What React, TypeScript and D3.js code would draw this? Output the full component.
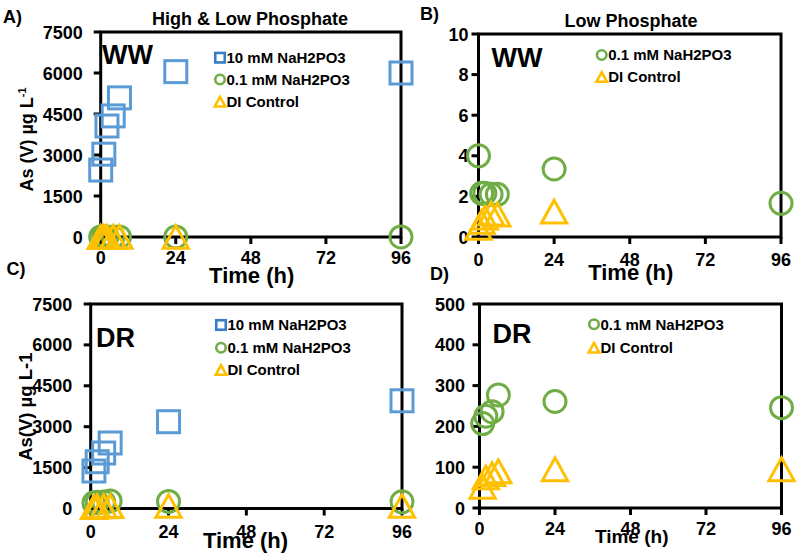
import React from 'react';
import * as d3 from 'd3';

// ---------- data ----------
const xTicks = [0, 24, 48, 72, 96];

const timesWW = [0, 1, 2, 4, 6, 24, 96];
const ww10mM: (number | null)[] = [2450, 3030, 4060, 4430, 5090, 6050, 6000];
const ww01mM: (number | null)[] = [4.0, 2.15, 2.15, 2.1, 2.1, 3.35, 1.66];
const wwDI: (number | null)[] = [0.45, 0.75, 0.95, 1.15, 1.1, 1.25, null];

const timesDR = [1, 2, 4, 6, 24, 96];
const dr10mM: (number | null)[] = [1375, 1716, 2035, 2402, 3183, 3950];
const dr01mM: (number | null)[] = [207, 225, 236, 277, 261, 246];
const drDI: (number | null)[] = [52, 75, 83, 90, 95, 95];

const ticksHigh = [0, 1500, 3000, 4500, 6000, 7500];
const ticksB = [0, 2, 4, 6, 8, 10];
const ticksD = [0, 100, 200, 300, 400, 500];

const label10 = '10 mM NaH2PO3';
const label01 = '0.1 mM NaH2PO3';
const labelDI = 'DI Control';

// ---------- style ----------
const FONT = '"Liberation Sans", Arial, sans-serif';
const BLUE = '#5B9BD5';
const BLUE_LEG = '#3A7CC6';
const GREEN = '#70AD47';
const ORANGE = '#FFC000';

type Kind = 'square' | 'circle' | 'triangle';

function Marker({ kind, x, y, s, sw, color }: { kind: Kind; x: number; y: number; s: number; sw: number; color: string }) {
  if (kind === 'square') {
    return <rect x={x - s / 2} y={y - s / 2} width={s} height={s} fill="none" stroke={color} strokeWidth={sw} />;
  }
  if (kind === 'circle') {
    return <circle cx={x} cy={y} r={s / 2} fill="none" stroke={color} strokeWidth={sw} />;
  }
  const w = s * 1.05;
  const h = s * 0.95;
  const p = d3.path();
  p.moveTo(x, y - h / 2);
  p.lineTo(x + w / 2, y + h / 2);
  p.lineTo(x - w / 2, y + h / 2);
  p.closePath();
  return <path d={p.toString()} fill="none" stroke={color} strokeWidth={sw} strokeLinejoin="miter" />;
}

type Series = { kind: Kind; color: string; legColor: string; label: string; times: number[]; values: (number | null)[] };

type Layout = {
  x0: number; x1: number; yTop: number; yBot: number;
  yTicks: number[]; yGap: number; xBase: number;
  legX: number; legY: number[];
  tag: string; tagX: number; tagY: number;
};

function Panel({ lay, series }: { lay: Layout; series: Series[] }) {
  const x = d3.scaleLinear().domain([0, 96]).range([lay.x0, lay.x1]);
  const yMax = lay.yTicks[lay.yTicks.length - 1];
  const y = d3.scaleLinear().domain([0, yMax]).range([lay.yBot, lay.yTop]);
  const sizes: Record<Kind, number> = { square: 22, circle: 22, triangle: 24 };
  return (
    <g>
      <rect x={lay.x0} y={lay.yTop} width={lay.x1 - lay.x0} height={lay.yBot - lay.yTop} fill="none" stroke="#000" strokeWidth={3} />
      {lay.yTicks.map((t) => (
        <g key={'y' + t}>
          <line x1={lay.x0 - 7} x2={lay.x0} y1={y(t)} y2={y(t)} stroke="#000" strokeWidth={3} />
          <text x={lay.x0 - lay.yGap} y={y(t) + 6.5} textAnchor="end" fontSize={18} fontWeight="bold" fontFamily={FONT}>{t}</text>
        </g>
      ))}
      {xTicks.map((t) => (
        <g key={'x' + t}>
          <line x1={x(t)} x2={x(t)} y1={lay.yBot} y2={lay.yBot + 7} stroke="#000" strokeWidth={3} />
          <text x={x(t)} y={lay.xBase} textAnchor="middle" fontSize={18} fontWeight="bold" fontFamily={FONT}>{t}</text>
        </g>
      ))}
      <text x={lay.tagX} y={lay.tagY} fontSize={27} fontWeight="bold" fontFamily={FONT}>{lay.tag}</text>
      {series.map((s, i) => (
        <g key={'leg' + i}>
          <Marker kind={s.kind} x={lay.legX} y={lay.legY[i]} s={s.kind === 'triangle' ? 10 : 9.5} sw={2.6} color={s.legColor} />
          <text x={lay.legX + 6.5} y={lay.legY[i] + 5.2} fontSize={15} fontWeight="bold" fontFamily={FONT}>{s.label}</text>
        </g>
      ))}
      {series.map((s, i) => (
        <g key={'s' + i}>
          {s.values.map((v, j) =>
            v === null ? null : (
              <Marker key={j} kind={s.kind} x={x(s.times[j])} y={y(v)} s={sizes[s.kind]} sw={3} color={s.color} />
            )
          )}
        </g>
      ))}
    </g>
  );
}

const sq = (times: number[], values: (number | null)[]): Series => ({ kind: 'square', color: BLUE, legColor: BLUE_LEG, label: label10, times, values });
const ci = (times: number[], values: (number | null)[]): Series => ({ kind: 'circle', color: GREEN, legColor: GREEN, label: label01, times, values });
const tr = (times: number[], values: (number | null)[]): Series => ({ kind: 'triangle', color: ORANGE, legColor: ORANGE, label: labelDI, times, values });

export default function App() {
  const layA: Layout = { x0: 100.7, x1: 401, yTop: 32, yBot: 237, yTicks: ticksHigh, yGap: 18, xBase: 264, legX: 220, legY: [57.7, 79.5, 101.7], tag: 'WW', tagX: 102, tagY: 63.5, };
  const layB: Layout = { x0: 478.5, x1: 781, yTop: 34, yBot: 237, yTicks: ticksB, yGap: 10, xBase: 265.5, legX: 601.7, legY: [55, 77], tag: 'WW', tagX: 491.5, tagY: 66.7 };
  const layC: Layout = { x0: 90.7, x1: 402, yTop: 304, yBot: 508.5, yTicks: ticksHigh, yGap: 18.5, xBase: 538, legX: 221, legY: [325, 347.7, 370], tag: 'DR', tagX: 96, tagY: 346.7 };
  const layD: Layout = { x0: 479.5, x1: 781.5, yTop: 304, yBot: 508, yTicks: ticksD, yGap: 14.5, xBase: 535, legX: 594, legY: [324.3, 347.7], tag: 'DR', tagX: 492.5, tagY: 343.3 };

  return (
    <svg width={800} height={559} style={{ position: 'absolute', left: 0, top: 0, background: '#fff' }} xmlns="http://www.w3.org/2000/svg">
      <rect x={0} y={0} width={800} height={559} fill="#fff" />
      {/* panel tags */}
      <text x={3} y={23.3} fontSize={18} fontWeight="bold" fontFamily={FONT}>A)</text>
      <text x={420} y={20} fontSize={18} fontWeight="bold" fontFamily={FONT}>B)</text>
      <text x={6.5} y={275} fontSize={18} fontWeight="bold" fontFamily={FONT}>C)</text>
      <text x={430} y={280} fontSize={18} fontWeight="bold" fontFamily={FONT}>D)</text>
      {/* titles */}
      <text x={250} y={25} textAnchor="middle" fontSize={18} fontWeight="bold" fontFamily={FONT}>High &amp; Low Phosphate</text>
      <text x={631} y={26.7} textAnchor="middle" fontSize={18} fontWeight="bold" fontFamily={FONT}>Low Phosphate</text>
      {/* y titles */}
      <text transform="translate(33,139.5) rotate(-90)" textAnchor="middle" fontSize={18} fontWeight="bold" fontFamily={FONT}>
        As (V) µg L<tspan fontSize={11} dy={-7}>-1</tspan>
      </text>
      <text transform="translate(31.7,406.7) rotate(-90)" textAnchor="middle" fontSize={18.5} fontWeight="bold" fontFamily={FONT}>As(V) µg L-1</text>
      {/* x titles */}
      <text x={251.7} y={283.3} textAnchor="middle" fontSize={22} fontWeight="bold" fontFamily={FONT}>Time (h)</text>
      <text x={630.8} y={280} textAnchor="middle" fontSize={22} fontWeight="bold" fontFamily={FONT}>Time (h)</text>
      <text x={245.5} y={548} textAnchor="middle" fontSize={22} fontWeight="bold" fontFamily={FONT}>Time (h)</text>
      <text x={631.7} y={543} textAnchor="middle" fontSize={19} fontWeight="bold" fontFamily={FONT}>Time (h)</text>

      <Panel lay={layA} series={[sq(timesWW, ww10mM), ci(timesWW, ww01mM), tr(timesWW, wwDI)]} />
      <Panel lay={layB} series={[ci(timesWW, ww01mM), tr(timesWW, wwDI)]} />
      <Panel lay={layC} series={[sq(timesDR, dr10mM), ci(timesDR, dr01mM), tr(timesDR, drDI)]} />
      <Panel lay={layD} series={[ci(timesDR, dr01mM), tr(timesDR, drDI)]} />
    </svg>
  );
}
